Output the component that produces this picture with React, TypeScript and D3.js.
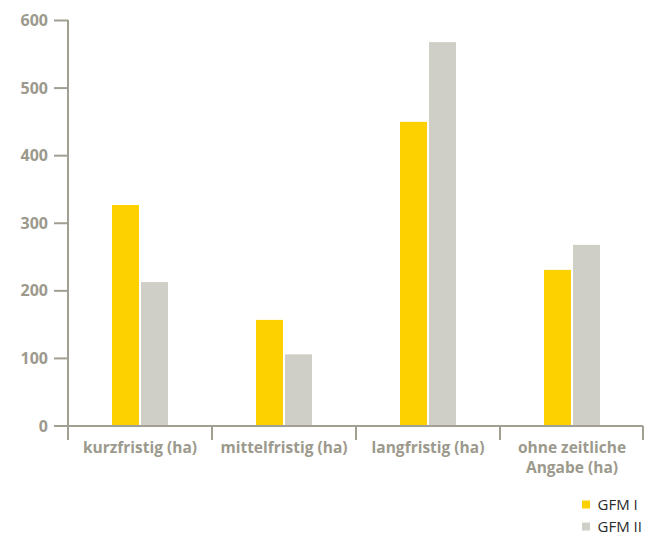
import React from "react";
import * as d3 from "d3";

const categories: string[][] = [
  ["kurzfristig (ha)"],
  ["mittelfristig (ha)"],
  ["langfristig (ha)"],
  ["ohne zeitliche", "Angabe (ha)"],
];
const seriesNames = ["GFM I", "GFM II"];
const gfm1 = [327, 157, 450, 231];
const gfm2 = [213, 106, 568, 268];
const yTicks = [0, 100, 200, 300, 400, 500, 600];
const colors = ["#FDD000", "#CFCFC7"];

const W = 653;
const H = 536;
const axisColor = "#A19E92";
const labelColor = "#9C998D";
const font = "'Open Sans', sans-serif";

export default function App() {
  const left = 68;
  const right = 644;
  const top = 20.5;
  const bottom = 426;

  const x0 = d3
    .scaleBand<number>()
    .domain(categories.map((_, i) => i))
    .range([left, right]);
  const y = d3.scaleLinear().domain([0, 600]).range([bottom, top]);
  const x1 = d3
    .scaleBand<number>()
    .domain([0, 1])
    .range([x0.bandwidth() / 2 - 28, x0.bandwidth() / 2 + 28])
    .paddingInner(2 / 29);

  const values = [gfm1, gfm2];

  return (
    <div style={{ position: "absolute", left: 0, top: 0 }}>
      <svg width={W} height={H} style={{ display: "block" }}>
        <rect width={W} height={H} fill="#fff" />
        {/* bars */}
        {categories.map((_, ci) =>
          values.map((vals, si) => (
            <rect
              key={`${ci}-${si}`}
              x={(x0(ci) as number) + (x1(si) as number)}
              y={y(vals[ci])}
              width={x1.bandwidth()}
              height={bottom - y(vals[ci])}
              fill={colors[si]}
            />
          ))
        )}
        {/* y axis */}
        <line x1={left} x2={left} y1={top - 0.5} y2={bottom + 14} stroke={axisColor} strokeWidth={2} />
        {yTicks.map((t) => (
          <g key={t}>
            <line x1={left - 14} x2={left} y1={y(t)} y2={y(t)} stroke={axisColor} strokeWidth={2} />
            <text
              x={left - 20}
              y={y(t)}
              dy="0.35em"
              textAnchor="end"
              fontFamily={font}
              fontWeight={700}
              fontSize={16}
              fill={labelColor}
            >
              {t}
            </text>
          </g>
        ))}
        {/* x axis */}
        <line x1={left} x2={right - 1} y1={bottom} y2={bottom} stroke={axisColor} strokeWidth={2} />
        {categories.map((_, ci) => (
          <line
            key={ci}
            x1={(x0(ci) as number) + x0.bandwidth() - (ci === categories.length - 1 ? 1 : 0)}
            x2={(x0(ci) as number) + x0.bandwidth() - (ci === categories.length - 1 ? 1 : 0)}
            y1={bottom}
            y2={bottom + 14}
            stroke={axisColor}
            strokeWidth={2}
          />
        ))}
        {categories.map((lines, ci) => (
          <text
            key={ci}
            x={(x0(ci) as number) + x0.bandwidth() / 2}
            y={453}
            textAnchor="middle"
            fontFamily={font}
            fontWeight={700}
            fontSize={15.5}
            fill={labelColor}
          >
            {lines.map((l, li) => (
              <tspan key={li} x={(x0(ci) as number) + x0.bandwidth() / 2} dy={li === 0 ? 0 : 20}>
                {l}
              </tspan>
            ))}
          </text>
        ))}
        {/* legend */}
        {seriesNames.map((s, i) => (
          <g key={s} transform={`translate(582, ${500.5 + i * 22})`}>
            <rect width={8} height={8} fill={colors[i]} />
            <text x={15.5} y={9.5} fontFamily={font} fontSize={15} fill="#2a2a2a">
              {s}
            </text>
          </g>
        ))}
      </svg>
    </div>
  );
}
